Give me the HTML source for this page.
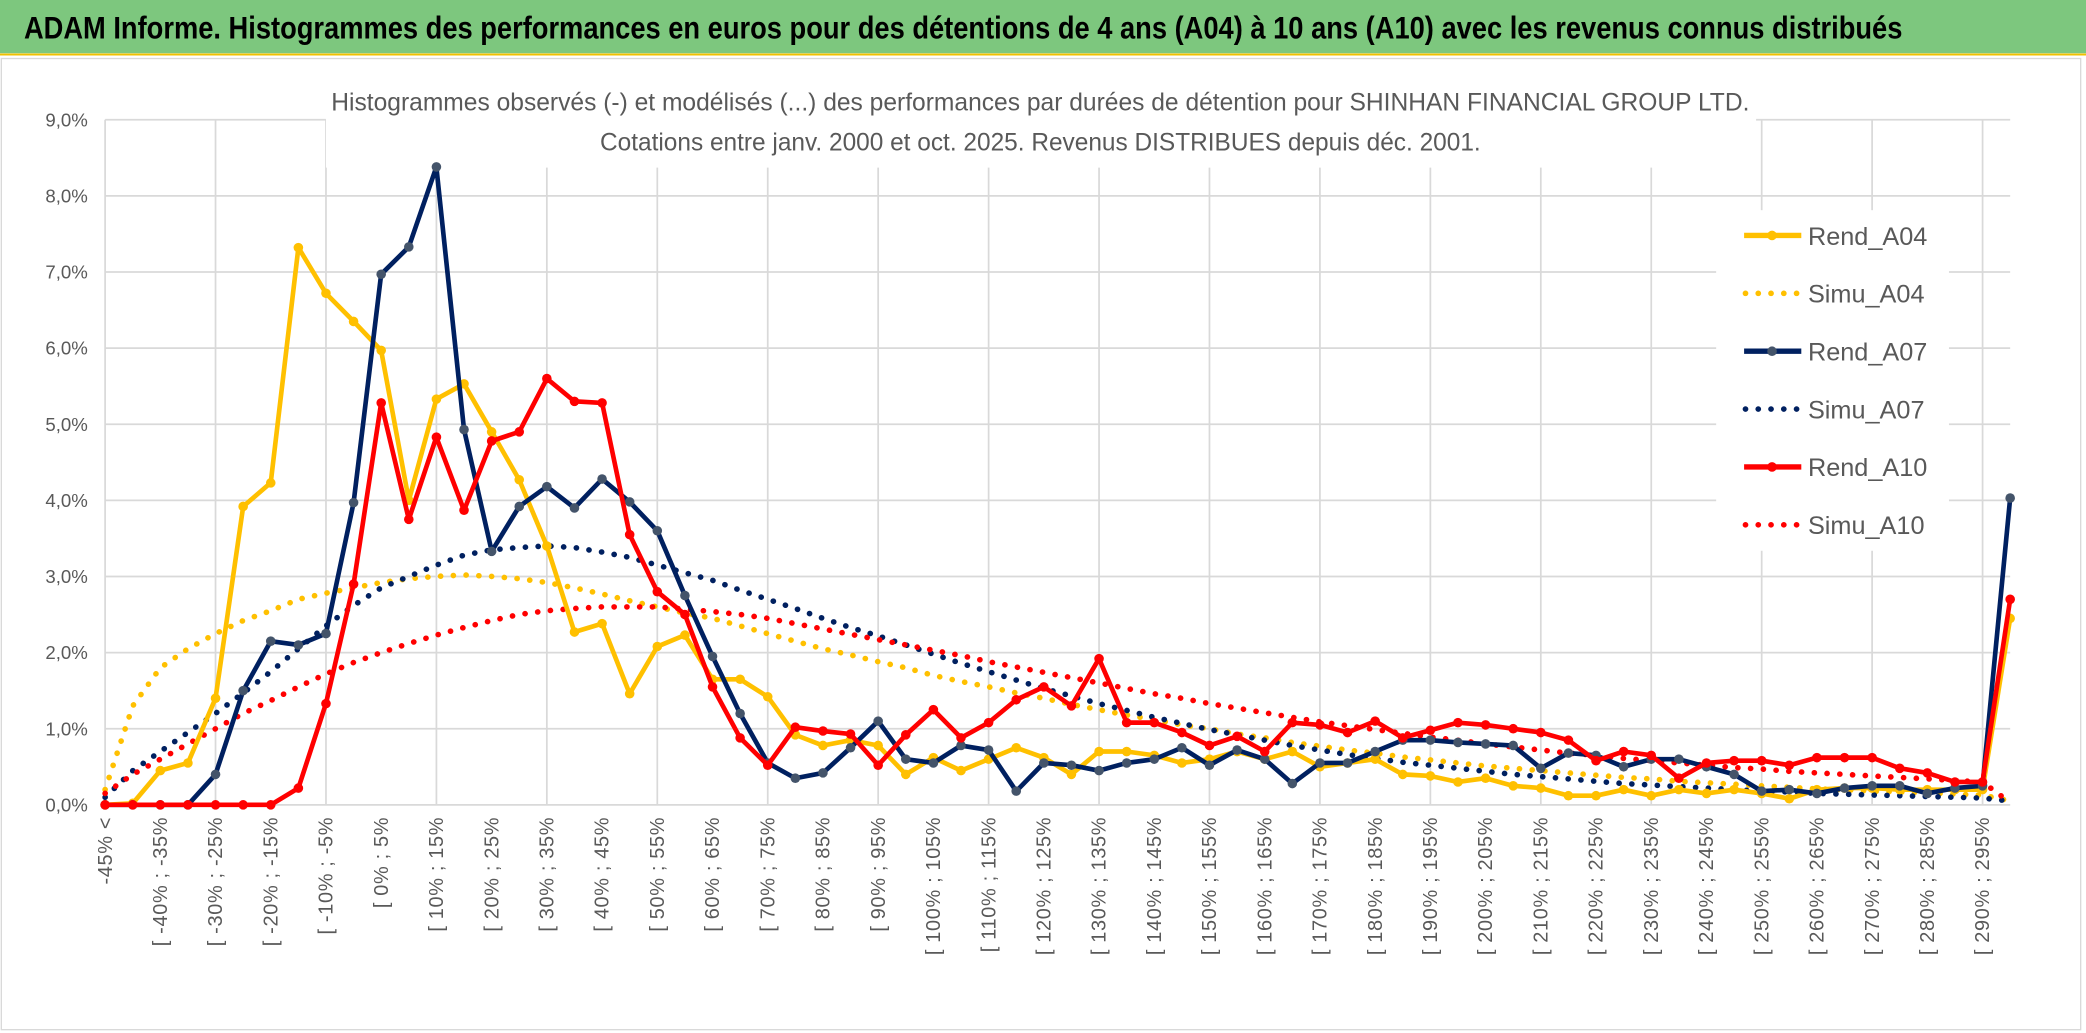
<!DOCTYPE html>
<html><head><meta charset="utf-8"><style>
html,body{margin:0;padding:0;background:#fff;}
svg{display:block;font-family:"Liberation Sans Narrow","Liberation Sans",sans-serif;}
</style></head><body>
<svg id="chart" width="2086" height="1033" viewBox="0 0 1568 776.5" preserveAspectRatio="none" xmlns="http://www.w3.org/2000/svg">
<rect x="0" y="0" width="1568" height="776.5" fill="#fff"/>
<rect x="0" y="0" width="1568" height="40" fill="#7dc77e"/>
<line x1="0" y1="41" x2="1568" y2="41" stroke="#f0c000" stroke-width="1.5"/>
<text x="18" y="29" font-size="24" font-weight="bold" fill="#000" textLength="1412" lengthAdjust="spacingAndGlyphs">ADAM Informe. Histogrammes des performances en euros pour des détentions de 4 ans (A04) à 10 ans (A10) avec les revenus connus distribués</text>
<rect x="1" y="44" width="1563" height="730" fill="none" stroke="#d9d9d9" stroke-width="1"/>
<g id="grid"></g>
<rect x="245" y="58" width="1075" height="68" fill="#fff"/>
<text x="782" y="83" font-size="19" fill="#595959" text-anchor="middle" textLength="1066" lengthAdjust="spacingAndGlyphs">Histogrammes observés (-) et modélisés (...) des performances par durées de détention pour SHINHAN FINANCIAL GROUP LTD.</text>
<text x="782" y="113" font-size="19" fill="#595959" text-anchor="middle" textLength="662" lengthAdjust="spacingAndGlyphs">Cotations entre janv. 2000 et oct. 2025. Revenus DISTRIBUES depuis déc. 2001.</text>
<g id="yticks"></g>
<g id="xticks"></g>
<g id="series"></g>
<g id="legend"></g>
</svg>
<script>
const categories = ["-45% <"];
for (let k = 1; k < 70; k++) categories.push("[ " + (-50 + 5*k) + "% ; " + (-45 + 5*k) + "%");
const yTickValues = [0,1,2,3,4,5,6,7,8,9];
const yTickLabels = ["0,0%","1,0%","2,0%","3,0%","4,0%","5,0%","6,0%","7,0%","8,0%","9,0%"];
const rendA04 = [0,0.02,0.45,0.55,1.4,3.92,4.23,7.32,6.72,6.35,5.97,4.0,5.33,5.53,4.9,4.27,3.4,2.27,2.38,1.46,2.08,2.23,1.65,1.65,1.42,0.92,0.78,0.85,0.78,0.4,0.62,0.45,0.6,0.75,0.62,0.4,0.7,0.7,0.65,0.55,0.6,0.7,0.6,0.7,0.5,0.55,0.6,0.4,0.38,0.3,0.35,0.25,0.22,0.12,0.12,0.2,0.12,0.2,0.15,0.2,0.15,0.08,0.2,0.22,0.22,0.2,0.2,0.2,0.2,2.45];
const simuA04 = [0.2,1.3,1.8,2.05,2.25,2.42,2.55,2.7,2.78,2.85,2.92,2.97,3.0,3.02,3.0,2.97,2.92,2.85,2.77,2.68,2.6,2.52,2.45,2.35,2.25,2.15,2.05,1.97,1.88,1.8,1.7,1.62,1.55,1.47,1.4,1.32,1.25,1.18,1.12,1.05,1.0,0.93,0.88,0.82,0.77,0.72,0.68,0.63,0.59,0.55,0.51,0.48,0.45,0.42,0.39,0.36,0.34,0.31,0.29,0.27,0.25,0.23,0.21,0.2,0.18,0.17,0.16,0.14,0.13,0.05];
const rendA07 = [0,0,0,0,0.4,1.5,2.15,2.1,2.25,3.97,6.97,7.33,8.38,4.93,3.33,3.92,4.18,3.9,4.28,3.98,3.6,2.75,1.95,1.2,0.55,0.35,0.42,0.75,1.1,0.6,0.55,0.78,0.72,0.18,0.55,0.52,0.45,0.55,0.6,0.75,0.52,0.72,0.6,0.28,0.55,0.55,0.7,0.85,0.85,0.82,0.8,0.78,0.48,0.68,0.65,0.5,0.6,0.6,0.5,0.4,0.18,0.2,0.15,0.22,0.25,0.25,0.15,0.22,0.25,4.03];
const simuA07 = [0.1,0.45,0.7,0.95,1.2,1.47,1.75,2.05,2.35,2.62,2.85,3.0,3.15,3.28,3.35,3.38,3.4,3.38,3.32,3.25,3.15,3.05,2.95,2.82,2.7,2.58,2.45,2.33,2.22,2.1,1.98,1.86,1.75,1.64,1.53,1.43,1.33,1.24,1.15,1.07,0.99,0.92,0.85,0.78,0.72,0.66,0.61,0.56,0.52,0.48,0.44,0.4,0.37,0.34,0.31,0.28,0.26,0.24,0.22,0.2,0.18,0.17,0.15,0.14,0.13,0.12,0.11,0.1,0.09,0.05];
const rendA10 = [0,0,0,0,0,0,0,0.22,1.33,2.9,5.28,3.75,4.83,3.87,4.78,4.9,5.6,5.3,5.28,3.55,2.8,2.5,1.55,0.88,0.52,1.02,0.97,0.93,0.52,0.92,1.25,0.88,1.08,1.38,1.55,1.3,1.92,1.08,1.08,0.95,0.78,0.9,0.7,1.08,1.05,0.95,1.1,0.88,0.98,1.08,1.05,1.0,0.95,0.85,0.58,0.7,0.65,0.35,0.55,0.58,0.58,0.52,0.62,0.62,0.62,0.48,0.42,0.3,0.3,2.7];
const simuA10 = [0.15,0.4,0.6,0.8,1.0,1.2,1.37,1.55,1.72,1.87,2.0,2.12,2.23,2.33,2.42,2.5,2.55,2.58,2.6,2.6,2.6,2.57,2.54,2.5,2.45,2.38,2.31,2.24,2.17,2.1,2.03,1.96,1.88,1.81,1.74,1.67,1.6,1.53,1.46,1.4,1.33,1.27,1.21,1.15,1.09,1.04,0.99,0.94,0.89,0.85,0.8,0.76,0.72,0.68,0.65,0.61,0.58,0.55,0.52,0.49,0.47,0.44,0.42,0.4,0.38,0.36,0.34,0.32,0.3,0.03];

const NS = "http://www.w3.org/2000/svg";
const X0 = 79, X1 = 1511, Y0 = 605, Y9 = 90;
function xPos(i){ return X0 + (X1 - X0) * i / (categories.length - 1); }
function yPos(v){ return Y0 - (Y0 - Y9) * v / 9; }
function mk(tag, attrs, parent){ const e = document.createElementNS(NS, tag); for (const k in attrs) e.setAttribute(k, attrs[k]); parent.appendChild(e); return e; }

const grid = document.getElementById("grid");
yTickValues.forEach(v => {
  const l = mk("line", {x1: X0, x2: X1, y1: yPos(v), y2: yPos(v), stroke: "#d9d9d9", "stroke-width": 1.3}, grid);
  
  
});
for (let i = 0; i < categories.length; i += 4) {
  const l = mk("line", {x1: xPos(i), x2: xPos(i), y1: Y9, y2: Y0, stroke: "#d9d9d9", "stroke-width": 1.3}, grid);
  
  
}
const yt = document.getElementById("yticks");
yTickValues.forEach((v, k) => {
  const t = mk("text", {x: 66, y: yPos(v) + 5, "font-size": 14, fill: "#595959", "text-anchor": "end"}, yt);
  t.textContent = yTickLabels[k];
  
  
});
const xt = document.getElementById("xticks");
for (let i = 0; i < categories.length - 1; i += 2) {
  const x = xPos(i) + 5;
  const t = mk("text", {x: 0, y: 0, "font-size": 15, fill: "#595959", "text-anchor": "end", "font-family": "Liberation Sans, sans-serif", "letter-spacing": "0.5", transform: "translate(" + x + ",614) rotate(-90)"}, xt);
  t.textContent = categories[i];
  
  
}
const sg = document.getElementById("series");
function pts(arr){ return arr.map((v, i) => xPos(i).toFixed(1) + "," + yPos(v).toFixed(1)).join(" "); }
function dotted(arr, color, name){
  const p = mk("polyline", {points: pts(arr), fill: "none", stroke: color, "stroke-width": 4.2, "stroke-linecap": "round", "stroke-dasharray": "0.1 9.5"}, sg);
  
  
}
function solid(arr, color, mcolor, name){
  const p = mk("polyline", {points: pts(arr), fill: "none", stroke: color, "stroke-width": 3.5, "stroke-linejoin": "round"}, sg);
  
  
  arr.forEach((v, i) => {
    const c = mk("circle", {cx: xPos(i), cy: yPos(v), r: 3.6, fill: mcolor}, sg);
    
    
  });
}
dotted(simuA04, "#ffc000", "simu-a04-line");
dotted(simuA07, "#002060", "simu-a07-line");
dotted(simuA10, "#ff0000", "simu-a10-line");
solid(rendA04, "#ffc000", "#ffc000", "rend-a04-line");
solid(rendA07, "#002060", "#44546a", "rend-a07-line");
solid(rendA10, "#ff0000", "#ff0000", "rend-a10-line");

const lg = document.getElementById("legend");
const bg = mk("rect", {x: 1290, y: 158, width: 175, height: 256, fill: "#fff"}, lg);


const legendNames = ["Rend_A04","Simu_A04","Rend_A07","Simu_A07","Rend_A10","Simu_A10"];
const legendColors = ["#ffc000","#ffc000","#002060","#002060","#ff0000","#ff0000"];
legendNames.forEach((n, k) => {
  const y = 177 + k * 43.5;
  if (k % 2 === 0) {
    const l = mk("line", {x1: 1311, x2: 1354, y1: y, y2: y, stroke: legendColors[k], "stroke-width": 4}, lg);
    
    
    const c = mk("circle", {cx: 1332, cy: y, r: 3.6, fill: k === 2 ? "#44546a" : legendColors[k]}, lg);
    
    
  } else {
    const l = mk("line", {x1: 1312, x2: 1354, y1: y, y2: y, stroke: legendColors[k], "stroke-width": 4.2, "stroke-linecap": "round", "stroke-dasharray": "0.1 9.5"}, lg);
    
    
  }
  const t = mk("text", {x: 1359, y: y + 7, "font-size": 19, fill: "#595959"}, lg);
  t.textContent = n;
  
  
});
</script>
</body></html>
